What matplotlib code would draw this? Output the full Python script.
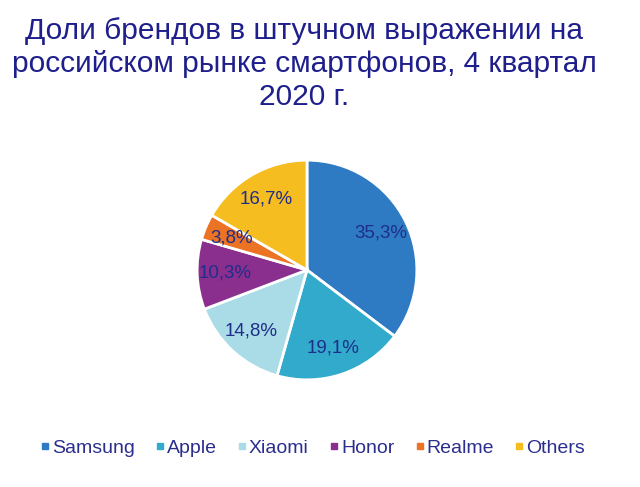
import matplotlib
matplotlib.use("Agg")
import matplotlib.pyplot as plt

brands = ["Samsung", "Apple", "Xiaomi", "Honor", "Realme", "Others"]
shares = [35.3, 19.1, 14.8, 10.3, 3.8, 16.7]
colors = ["#2E7BC4", "#31AACB", "#A9DCE6", "#8B2F8E", "#EC7224", "#F5BD1F"]
title = "Доли брендов в штучном выражении на\nроссийском рынке смартфонов, 4 квартал\n2020 г."

plt.rcParams['font.family'] = ['Liberation Sans', 'DejaVu Sans']

fig = plt.figure(figsize=(6.4, 4.87), dpi=100)
fig.text(0.475, 0.965, title, ha='center', va='top', fontsize=21.5,
         color='#1E1E8C', linespacing=1.22)

cy = 1 - 270 / 487
h = 0.564
w = h * 487 / 640
ax = fig.add_axes([307 / 640 - w / 2, cy - h / 2, w, h])
wedges, texts, autotexts = ax.pie(
    shares, colors=colors, startangle=90, counterclock=False,
    autopct=lambda p: f"{p:.1f}%".replace('.', ','), pctdistance=0.75,
    wedgeprops=dict(edgecolor='white', linewidth=2),
    textprops=dict(color='#1F2E8A', fontsize=13.5))
ax.set_aspect('equal')

handles = [plt.Line2D([], [], marker='s', linestyle='', color=c, markersize=4) for c in colors]
fig.legend(handles, brands, loc='center', bbox_to_anchor=(0.4875, 0.08), ncol=6,
           frameon=False, fontsize=14, labelcolor='#2B2E8C', handletextpad=0.05,
           columnspacing=1.0, handlelength=0.6)

fig.savefig("out.png", dpi=100, facecolor='white')
